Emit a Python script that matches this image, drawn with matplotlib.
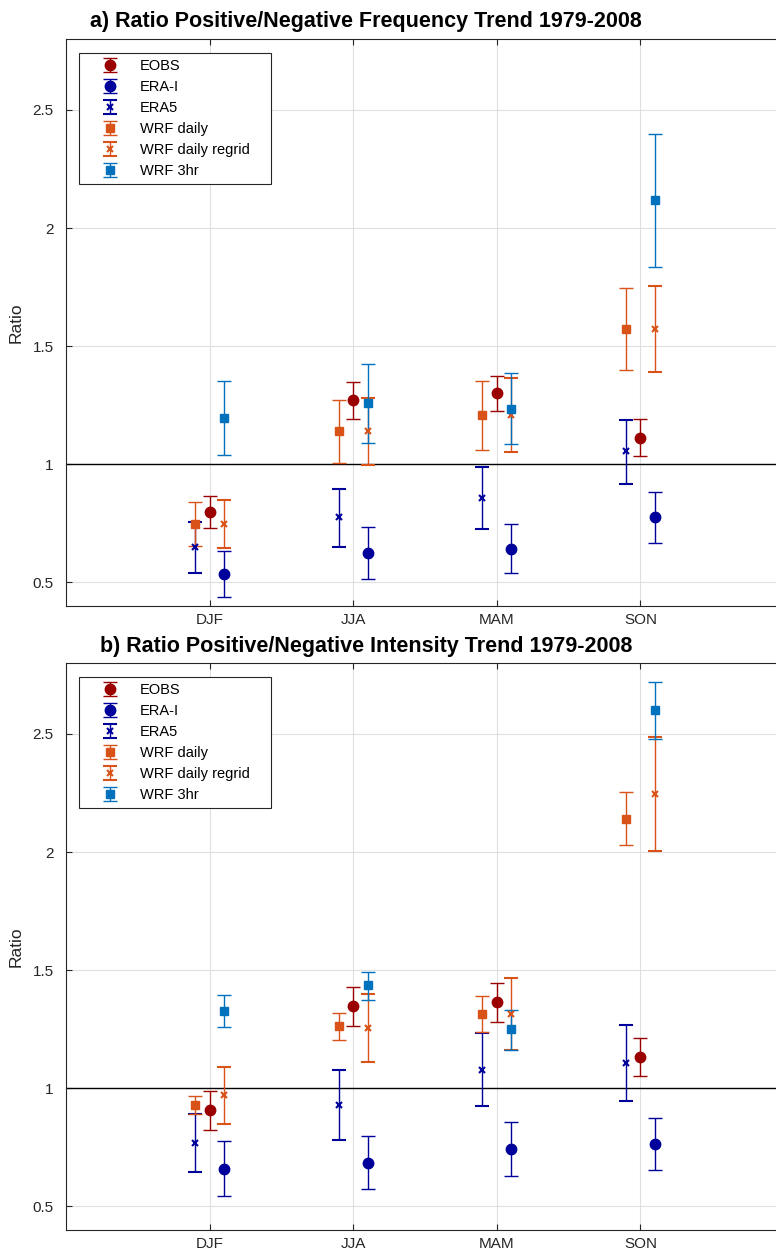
import numpy as np
import matplotlib
matplotlib.use("Agg")
import matplotlib.pyplot as plt
from matplotlib.patches import Rectangle

plt.rcParams['font.family'] = ['Liberation Sans', 'DejaVu Sans']

seasons = ['DJF', 'JJA', 'MAM', 'SON']
labels = ['EOBS', 'ERA-I', 'ERA5', 'WRF daily', 'WRF daily regrid', 'WRF 3hr']

# a) frequency ratio: value, lower end, upper end of the bar
eobs_freq = [0.797, 1.27, 1.30, 1.113]
eobs_freq_lo = [0.73, 1.19, 1.224, 1.034]
eobs_freq_hi = [0.865, 1.35, 1.375, 1.19]
erai_freq = [0.535, 0.625, 0.642, 0.775]
erai_freq_lo = [0.438, 0.515, 0.539, 0.667]
erai_freq_hi = [0.632, 0.735, 0.746, 0.883]
era5_freq = [0.65, 0.775, 0.859, 1.054]
era5_freq_lo = [0.54, 0.65, 0.725, 0.915]
era5_freq_hi = [0.756, 0.894, 0.989, 1.187]
wrfd_freq = [0.746, 1.14, 1.208, 1.573]
wrfd_freq_lo = [0.655, 1.007, 1.062, 1.40]
wrfd_freq_hi = [0.84, 1.27, 1.352, 1.744]
wrfr_freq = [0.746, 1.139, 1.207, 1.573]
wrfr_freq_lo = [0.645, 0.996, 1.052, 1.39]
wrfr_freq_hi = [0.85, 1.282, 1.363, 1.754]
wrf3_freq = [1.196, 1.258, 1.234, 2.117]
wrf3_freq_lo = [1.041, 1.089, 1.085, 1.837]
wrf3_freq_hi = [1.351, 1.425, 1.386, 2.40]

# b) intensity ratio
eobs_int = [0.907, 1.347, 1.364, 1.131]
eobs_int_lo = [0.822, 1.264, 1.28, 1.051]
eobs_int_hi = [0.99, 1.43, 1.447, 1.211]
erai_int = [0.66, 0.684, 0.743, 0.763]
erai_int_lo = [0.545, 0.572, 0.628, 0.654]
erai_int_hi = [0.775, 0.797, 0.857, 0.873]
era5_int = [0.77, 0.931, 1.078, 1.106]
era5_int_lo = [0.645, 0.78, 0.925, 0.946]
era5_int_hi = [0.893, 1.078, 1.235, 1.267]
wrfd_int = [0.928, 1.263, 1.315, 2.141]
wrfd_int_lo = [0.89, 1.203, 1.237, 2.03]
wrfd_int_hi = [0.966, 1.319, 1.391, 2.254]
wrfr_int = [0.97, 1.255, 1.315, 2.246]
wrfr_int_lo = [0.85, 1.11, 1.161, 2.004]
wrfr_int_hi = [1.09, 1.40, 1.465, 2.488]
wrf3_int = [1.327, 1.436, 1.25, 2.60]
wrf3_int_lo = [1.26, 1.374, 1.164, 2.48]
wrf3_int_hi = [1.394, 1.493, 1.333, 2.72]

colors = ['#9b0000', '#00009b', '#00009b', '#d95319', '#d95319', '#0072bd']
markers = ['o', 'o', 'x', 's', 'x', 's']
msizes = [7.5, 7.5, 4, 6, 4, 6]
offsets = [0.0, 0.1, -0.1, -0.1, 0.1, 0.1]

panels = [
    ("a) Ratio Positive/Negative Frequency Trend 1979-2008",
     [(eobs_freq, eobs_freq_lo, eobs_freq_hi),
      (erai_freq, erai_freq_lo, erai_freq_hi),
      (era5_freq, era5_freq_lo, era5_freq_hi),
      (wrfd_freq, wrfd_freq_lo, wrfd_freq_hi),
      (wrfr_freq, wrfr_freq_lo, wrfr_freq_hi),
      (wrf3_freq, wrf3_freq_lo, wrf3_freq_hi)]),
    ("b) Ratio Positive/Negative Intensity Trend 1979-2008",
     [(eobs_int, eobs_int_lo, eobs_int_hi),
      (erai_int, erai_int_lo, erai_int_hi),
      (era5_int, era5_int_lo, era5_int_hi),
      (wrfd_int, wrfd_int_lo, wrfd_int_hi),
      (wrfr_int, wrfr_int_lo, wrfr_int_hi),
      (wrf3_int, wrf3_int_lo, wrf3_int_hi)]),
]

W, H = 776, 1256
fig = plt.figure(figsize=(W / 100, H / 100), dpi=100)

axc = '#262626'
tops = [39, 663]
aw = 784 - 66
for k, (title, series) in enumerate(panels):
    top = tops[k]
    bot = top + 567
    ah = bot - top
    ax = fig.add_axes([66 / W, 1 - bot / H, aw / W, ah / H])
    x = np.arange(1, len(seasons) + 1)
    for i, (v, lo, hi) in enumerate(series):
        v = np.array(v)
        err = [v - np.array(lo), np.array(hi) - v]
        mew = 1.5 if markers[i] == 'x' else 1.0
        ax.errorbar(x + offsets[i], v, yerr=err, fmt=markers[i], color=colors[i],
                    ms=msizes[i], mew=mew, elinewidth=1.0, capsize=5, capthick=1.3,
                    label=labels[i], zorder=3)
    ax.axhline(1, color='black', lw=1.0, zorder=2)
    ax.set_xlim(0, 5)
    ax.set_ylim(0.4, 2.8)
    ax.set_xticks(x)
    ax.set_xticklabels(seasons)
    ax.set_yticks([0.5, 1, 1.5, 2, 2.5])
    ax.set_yticklabels(['0.5', '1', '1.5', '2', '2.5'])
    ax.grid(True, color='#dfdfdf', lw=0.8, zorder=0)
    ax.set_axisbelow(True)
    ax.tick_params(direction='in', length=4, top=True, right=True, labelsize=11,
                   colors=axc, pad=5)
    ax.tick_params(axis='y', pad=9)
    for s in ax.spines.values():
        s.set_color(axc)
        s.set_linewidth(0.8)
    ax.set_ylabel('Ratio', fontsize=12.5, color=axc)
    ax.yaxis.set_label_coords(-42 / aw, 0.5)

    # legend: box drawn separately so it can be as wide as the original
    leg = ax.legend(loc='upper left', bbox_to_anchor=(21 / aw, 1 - 20 / ah),
                    borderaxespad=0, fontsize=10.5, handlelength=3.2,
                    handletextpad=0.4, labelspacing=0.48, borderpad=0.0,
                    frameon=False)
    ax.add_patch(Rectangle((13 / aw, 1 - 145 / ah), 192 / aw, 131 / ah,
                           transform=ax.transAxes, fill=True, facecolor='white',
                           edgecolor=axc, lw=0.8, zorder=4))
    leg.set_zorder(5)

    fig.text(366 / W, 1 - (top - 17) / H, title, ha='center', va='center',
             fontsize=15.5, fontweight='bold', color='black')

fig.savefig('out.png', dpi=100)
